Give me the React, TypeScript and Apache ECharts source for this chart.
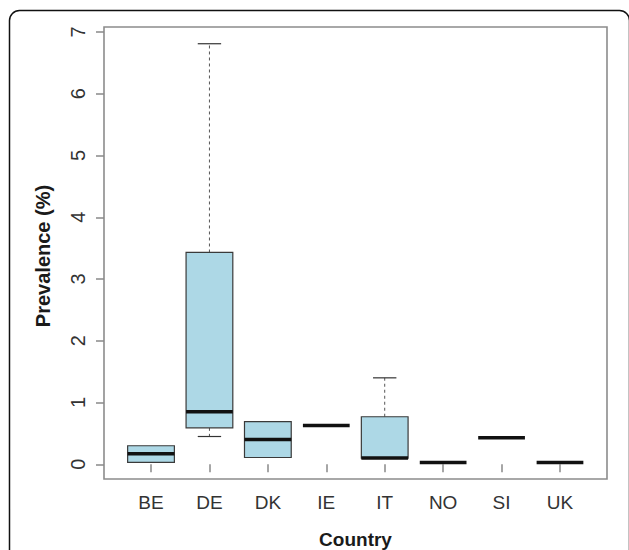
import React, { useEffect, useRef } from "react";
import * as echarts from "echarts";

const categories = ["BE", "DE", "DK", "IE", "IT", "NO", "SI", "UK"];
const minVals = [0.03, 0.45, 0.11, 0.63, 0.1, 0.03, 0.43, 0.03];
const q1Vals = [0.03, 0.59, 0.11, 0.63, 0.1, 0.03, 0.43, 0.03];
const medianVals = [0.17, 0.85, 0.4, 0.63, 0.1, 0.03, 0.43, 0.03];
const q3Vals = [0.3, 3.43, 0.69, 0.63, 0.77, 0.03, 0.43, 0.03];
const maxVals = [0.3, 6.81, 0.69, 0.63, 1.4, 0.03, 0.43, 0.03];
const yTickValues = [0, 1, 2, 3, 4, 5, 6, 7];
const yTitle = "Prevalence (%)";
const xTitle = "Country";

const FONT = "'Liberation Sans', Arial, Helvetica, sans-serif";

function renderItem(params: any, api: any) {
  const i = api.value(0);
  const mn = api.value(1);
  const q1 = api.value(2);
  const md = api.value(3);
  const q3 = api.value(4);
  const mx = api.value(5);
  const band = api.size([1, 0])[0];
  const bw = band * 0.8;
  const sw = bw * 0.5;
  const cx = api.coord([i, 0])[0];
  const y = (v: number) => api.coord([i, v])[1];
  const children: any[] = [];
  const whiskerStyle = { stroke: "#555", lineWidth: 1, lineDash: [3, 3], fill: null };
  const stapleStyle = { stroke: "#333", lineWidth: 1.2, fill: null };
  if (mx > q3) {
    children.push({ type: "line", shape: { x1: cx, y1: y(q3), x2: cx, y2: y(mx) }, style: whiskerStyle });
    children.push({ type: "line", shape: { x1: cx - sw / 2, y1: y(mx), x2: cx + sw / 2, y2: y(mx) }, style: stapleStyle });
  }
  if (mn < q1) {
    children.push({ type: "line", shape: { x1: cx, y1: y(q1), x2: cx, y2: y(mn) }, style: whiskerStyle });
    children.push({ type: "line", shape: { x1: cx - sw / 2, y1: y(mn), x2: cx + sw / 2, y2: y(mn) }, style: stapleStyle });
  }
  if (q3 > q1) {
    children.push({
      type: "rect",
      shape: { x: cx - bw / 2, y: y(q3), width: bw, height: y(q1) - y(q3) },
      style: { fill: "#ADD8E6", stroke: "#3a3a3a", lineWidth: 1.2 },
    });
  }
  children.push({
    type: "line",
    shape: { x1: cx - bw / 2, y1: y(md), x2: cx + bw / 2, y2: y(md) },
    style: { stroke: "#111", lineWidth: 3.5, fill: null },
  });
  return { type: "group", children };
}

export default function App() {
  const ref = useRef<HTMLDivElement>(null);
  useEffect(() => {
    if (!ref.current) return;
    const chart = echarts.init(ref.current, null, { renderer: "svg" });
    const data = categories.map((c, i) => [i, minVals[i], q1Vals[i], medianVals[i], q3Vals[i], maxVals[i]]);
    chart.setOption({
      animation: false,
      backgroundColor: "#ffffff",
      grid: { left: 121.8, right: 39.8, top: 32, bottom: 85.7, containLabel: false },
      xAxis: {
        type: "category",
        data: categories,
        offset: 15,
        axisLine: { show: false },
        axisTick: { show: true, alignWithLabel: true, length: 8, lineStyle: { color: "#888", width: 1.5 } },
        axisLabel: { color: "#333", fontSize: 19, fontFamily: FONT, margin: 14 },
        splitLine: { show: false },
      },
      yAxis: {
        type: "value",
        min: 0,
        max: 7,
        interval: 1,
        offset: 17.8,
        axisLine: { show: false },
        axisTick: { show: true, length: 8, lineStyle: { color: "#888", width: 1.5 } },
        axisLabel: {
          color: "#333",
          fontSize: 20,
          fontFamily: FONT,
          rotate: 90,
          margin: 16,
          formatter: (v: number) => (yTickValues.includes(v) ? String(v) : ""),
        },
        splitLine: { show: false },
      },
      graphic: [
        {
          type: "rect",
          shape: { x: 9.5, y: 10.5, width: 620, height: 620, r: 10 },
          style: { fill: null, stroke: "#111", lineWidth: 1.5 },
          silent: true,
          z: 0,
        },
        {
          type: "rect",
          shape: { x: 104, y: 27, width: 503, height: 452 },
          style: { fill: null, stroke: "#8c8c8c", lineWidth: 1.6 },
          silent: true,
          z: 0,
        },
        {
          type: "text",
          x: 43,
          y: 256,
          rotation: Math.PI / 2,
          style: {
            text: yTitle,
            font: `bold 20px ${FONT}`,
            fill: "#1a1a1a",
            align: "center",
            verticalAlign: "middle",
          },
        },
        {
          type: "text",
          x: 355.5,
          y: 539,
          style: {
            text: xTitle,
            font: `bold 19px ${FONT}`,
            fill: "#1a1a1a",
            align: "center",
            verticalAlign: "middle",
          },
        },
      ],
      series: [
        {
          type: "custom",
          renderItem,
          data,
          encode: { x: 0, y: [1, 2, 3, 4, 5] },
          z: 3,
        },
      ],
    });
    return () => chart.dispose();
  }, []);
  return (
    <div
      ref={ref}
      style={{ position: "fixed", left: 0, top: 0, width: 629, height: 550, background: "#fff" }}
    />
  );
}
